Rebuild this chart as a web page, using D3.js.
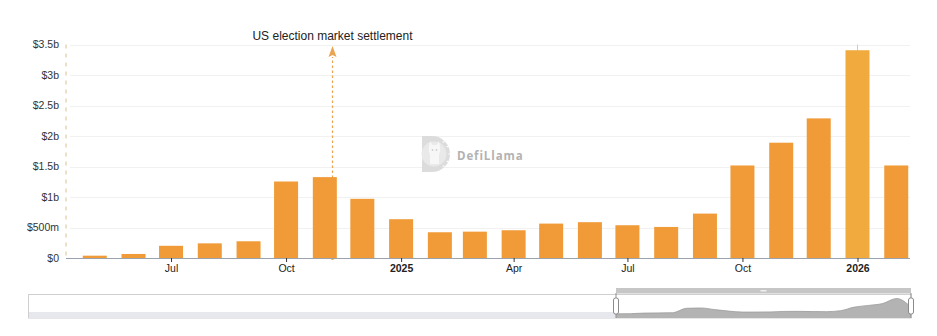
<!DOCTYPE html>
<html>
<head>
<meta charset="utf-8">
<script src="https://cdn.jsdelivr.net/npm/d3@7/dist/d3.min.js"></script>
<style>
  html, body { margin: 0; padding: 0; background: #fff; }
  svg { display: block; font-family: "Liberation Sans", Arial, Helvetica, sans-serif; }
</style>
</head>
<body>
<svg id="chart" width="937" height="336"></svg>
<script>
// Monthly volume (billions of USD), one bar per month
const months = [
  "2024-05-01", "2024-06-01", "2024-07-01", "2024-08-01", "2024-09-01", "2024-10-01",
  "2024-11-01", "2024-12-01", "2025-01-01", "2025-02-01", "2025-03-01", "2025-04-01",
  "2025-05-01", "2025-06-01", "2025-07-01", "2025-08-01", "2025-09-01", "2025-10-01",
  "2025-11-01", "2025-12-01", "2026-01-01", "2026-02-01"
];
const volume = [
  0.038, 0.066, 0.20, 0.24, 0.274, 1.254,
  1.326, 0.97, 0.636, 0.422, 0.432, 0.455,
  0.564, 0.587, 0.537, 0.509, 0.728, 1.517,
  1.89, 2.289, 3.406, 1.517
];

// Axis ticks
const xTickDates = ["2024-07-01", "2024-10-01", "2025-01-01", "2025-04-01", "2025-07-01", "2025-10-01", "2026-01-01"];
const xTickLabels = ["Jul", "Oct", "2025", "Apr", "Jul", "Oct", "2026"];
const yTickValues = [0, 0.5, 1, 1.5, 2, 2.5, 3, 3.5];
const yTickLabels = ["$0", "$500m", "$1b", "$1.5b", "$2b", "$2.5b", "$3b", "$3.5b"];

// Event annotation
const eventDates = ["2024-11-07"];
const eventLabels = ["US election market settlement"];

// Visible window of the time axis
const viewStart = "2024-04-08";
const viewEnd = "2026-02-12";
const highlightedMonth = "2026-01-01";

const parse = d3.utcParse("%Y-%m-%d");
const data = months.map((m, i) => ({ date: parse(m), value: volume[i] }));

const svg = d3.select("#chart");
const plot = { left: 66, right: 910, top: 44.5, bottom: 258 };

const x = d3.scaleUtc().domain([parse(viewStart), parse(viewEnd)]).range([plot.left, plot.right]);
const y = d3.scaleLinear().domain([0, 3.5]).range([plot.bottom, plot.top]);

const barColor = "#f09b38";
const barHighlight = "#f1aa3e";
const barWidth = 24;

// Horizontal grid
svg.append("g")
  .selectAll("line")
  .data(yTickValues.slice(1))
  .join("line")
  .attr("x1", plot.left + 4).attr("x2", plot.right)
  .attr("y1", d => Math.round(y(d)) + 0.5).attr("y2", d => Math.round(y(d)) + 0.5)
  .attr("stroke", "#f1f1f1").attr("stroke-width", 1);

// Y axis labels
const yAxis = d3.axisLeft(y)
  .tickValues(yTickValues)
  .tickFormat((d, i) => yTickLabels[i])
  .tickSize(0).tickPadding(7);
const yg = svg.append("g").attr("transform", `translate(${plot.left},0)`).call(yAxis);
yg.select(".domain").remove();
yg.selectAll("text").attr("fill", "#333").attr("font-size", 10.5);

// Dashed marker along the left edge
svg.append("line")
  .attr("x1", plot.left).attr("x2", plot.left)
  .attr("y1", plot.top).attr("y2", plot.bottom)
  .attr("stroke", "#e8d6b4").attr("stroke-width", 1.5)
  .attr("stroke-dasharray", "4,5");

// Event markers (drawn beneath the bars)
const ev = svg.append("g");
eventDates.forEach((d, i) => {
  const ex = Math.round(x(parse(d))) + 0.5;
  ev.append("line")
    .attr("x1", ex).attr("x2", ex)
    .attr("y1", plot.bottom).attr("y2", 57)
    .attr("stroke", "#eba451").attr("stroke-width", 1.2)
    .attr("stroke-dasharray", "2.5,2.5");
  ev.append("path")
    .attr("d", `M${ex},46 L${ex - 4},57 L${ex},55 L${ex + 4},57 Z`)
    .attr("fill", "#eba451");
  ev.append("circle")
    .attr("cx", ex).attr("cy", plot.bottom).attr("r", 2)
    .attr("fill", "#eba451");
  ev.append("text")
    .attr("x", ex).attr("y", 40)
    .attr("text-anchor", "middle")
    .attr("font-size", 12).attr("fill", "#222")
    .text(eventLabels[i]);
});

// Watermark
const wm = svg.append("g").attr("transform", "translate(422,136)");
wm.append("path")
  .attr("d", "M0,0 H10 A18,18 0 0 1 10,36 H0 Z")
  .attr("fill", "#dcdcdc");
wm.append("circle").attr("cx", 12).attr("cy", 18).attr("r", 12.5).attr("fill", "#e9e9e9");
// llama head
wm.append("path")
  .attr("d", "M7,11 L8,5 L10.5,9 L14.5,9 L17,5 L18,11 Q19,15 17,19 L17,28 L8,28 L8,19 Q6,15 7,11 Z")
  .attr("fill", "#f7f7f7");
wm.append("circle").attr("cx", 10.5).attr("cy", 14).attr("r", 0.9).attr("fill", "#cfcfcf");
wm.append("circle").attr("cx", 14.5).attr("cy", 14).attr("r", 0.9).attr("fill", "#cfcfcf");
// ticks round the dial
[[-0.9, 0], [-0.5, 0], [0, 0], [0.5, 0], [0.9, 0]].forEach(([a]) => {
  const ang = a;
  const cx = 12 + Math.cos(ang) * 15.5, cy = 18 + Math.sin(ang) * 15.5;
  wm.append("line")
    .attr("x1", cx - 1).attr("y1", cy).attr("x2", cx + 1).attr("y2", cy)
    .attr("stroke", "#ffffff").attr("stroke-width", 1.2);
});
wm.append("text")
  .attr("x", 35).attr("y", 24)
  .attr("font-family", "'Open Sans', 'Noto Sans', sans-serif")
  .attr("font-size", 11.5).attr("font-weight", 700)
  .attr("letter-spacing", 0.9)
  .attr("fill", "#b2b2b2")
  .text("DefiLlama");

// Hover guide above highlighted bar
const hx = Math.round(x(parse(highlightedMonth))) + 0.5;
svg.append("line")
  .attr("x1", hx).attr("x2", hx)
  .attr("y1", plot.top).attr("y2", plot.bottom)
  .attr("stroke", "#cccccc").attr("stroke-width", 1);

// Bars
svg.append("g")
  .selectAll("rect")
  .data(data)
  .join("rect")
  .attr("x", d => x(d.date) - barWidth / 2)
  .attr("width", barWidth)
  .attr("y", d => y(d.value))
  .attr("height", d => y(0) - y(d.value))
  .attr("fill", d => +d.date === +parse(highlightedMonth) ? barHighlight : barColor);

// X axis
const xAxis = d3.axisBottom(x)
  .tickValues(xTickDates.map(parse))
  .tickFormat((d, i) => xTickLabels[i])
  .tickSize(4).tickPadding(3);
const xg = svg.append("g").attr("transform", `translate(0,${plot.bottom})`).call(xAxis);
xg.select(".domain").attr("stroke", "#9aa3ad").attr("d", `M${plot.left},0.5H${plot.right}`);
xg.selectAll(".tick line").attr("stroke", "#333");
xg.selectAll("text")
  .attr("fill", "#222").attr("font-size", 10.5)
  .attr("font-weight", (d, i) => /^\d{4}$/.test(xTickLabels[i]) ? 700 : 400);

// Range slider with data shadow
const slider = { left: 28.5, right: 911, top: 294.5, bottom: 318, selLeft: 616 };
const sg = svg.append("g");
sg.append("rect")
  .attr("x", slider.left).attr("y", slider.top)
  .attr("width", slider.right - slider.left).attr("height", slider.bottom - slider.top)
  .attr("fill", "#fff").attr("stroke", "#cfcfcf");
sg.append("rect")
  .attr("x", slider.left + 0.5).attr("y", 312)
  .attr("width", slider.selLeft - slider.left).attr("height", slider.bottom - 312)
  .attr("fill", "#e6e8ee");

const sx = d3.scaleUtc().domain([data[0].date, data[data.length - 1].date]).range([slider.selLeft, slider.right]);
const sy = d3.scaleLinear().domain([0, 3.406]).range([314, 298.5]);
const shadow = d3.area()
  .x(d => sx(d.date)).y0(slider.bottom).y1(d => sy(d.value))
  .curve(d3.curveMonotoneX);
sg.append("path").datum(data)
  .attr("d", shadow).attr("fill", "#b3b3b3");
sg.append("path").datum(data)
  .attr("d", d3.line().x(d => sx(d.date)).y(d => sy(d.value)).curve(d3.curveMonotoneX))
  .attr("fill", "none").attr("stroke", "#9c9c9c").attr("stroke-width", 0.8);

// Selection bar and handles
sg.append("rect")
  .attr("x", slider.selLeft).attr("y", 288)
  .attr("width", slider.right - slider.selLeft).attr("height", 5.5)
  .attr("fill", "#c6c6c6");
sg.append("rect")
  .attr("x", (slider.selLeft + slider.right) / 2 - 3).attr("y", 290)
  .attr("width", 6).attr("height", 1.5)
  .attr("fill", "#efefef");
sg.append("line")
  .attr("x1", slider.selLeft).attr("x2", slider.selLeft)
  .attr("y1", 293).attr("y2", slider.bottom)
  .attr("stroke", "#8f8f8f");
sg.append("line")
  .attr("x1", slider.right).attr("x2", slider.right)
  .attr("y1", 293).attr("y2", slider.bottom)
  .attr("stroke", "#8f8f8f");
[slider.selLeft, slider.right].forEach(hxp => {
  sg.append("rect")
    .attr("x", hxp - 2.5).attr("y", 298)
    .attr("width", 5).attr("height", 16)
    .attr("rx", 2)
    .attr("fill", "#fff").attr("stroke", "#8a8a8a").attr("stroke-width", 1);
});
</script>
</body>
</html>
